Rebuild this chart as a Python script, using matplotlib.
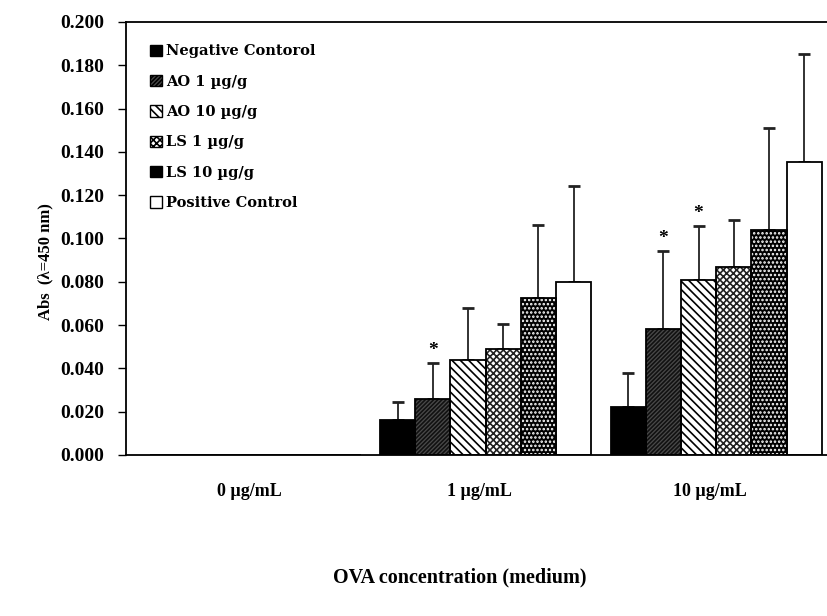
import numpy as np
import matplotlib
matplotlib.use("Agg")
import matplotlib.pyplot as plt
from matplotlib.patches import Patch

# данные
categories = ["0 \u00b5g/mL", "1 \u00b5g/mL", "10 \u00b5g/mL"]
groups = ["Negative Contorol", "AO 1 \u00b5g/g", "AO 10 \u00b5g/g", "LS 1 \u00b5g/g", "LS 10 \u00b5g/g", "Positive Control"]
means = [
    [0.0, 0.016, 0.022],   # Negative
    [0.0, 0.026, 0.058],   # AO 1
    [0.0, 0.044, 0.081],   # AO 10
    [0.0, 0.049, 0.087],   # LS 1
    [0.0, 0.0725, 0.104],  # LS 10
    [0.0, 0.080, 0.1355],  # Positive
]
err_top = [
    [0.0, 0.0245, 0.0378],
    [0.0, 0.0425, 0.094],
    [0.0, 0.068, 0.1057],
    [0.0, 0.0605, 0.1086],
    [0.0, 0.106, 0.1512],
    [0.0, 0.124, 0.185],
]
stars = [(1, 1), (1, 2), (2, 2)]  # (группа, категория) со звездочкой

# стиль заливки: facecolor, hatch, цвет штриховки
styles = [
    ("black", None, "black"),
    ("#4a4a4a", "////////", "#111111"),
    ("white", "\\\\\\\\", "black"),
    ("white", "xxxxx", "#222222"),
    ("black", "....", "white"),
    ("white", None, "black"),
]

plt.rcParams["font.family"] = ["Liberation Serif", "DejaVu Serif"]
plt.rcParams["font.weight"] = "bold"
plt.rcParams["hatch.linewidth"] = 1.2

fig = plt.figure(figsize=(8.28, 6.16), dpi=100)
ax = fig.add_axes([0.1522, 0.2614, 0.8527, 0.7030])

x = np.arange(len(categories))
w = 0.1527
shift = 0.027  # группа баров чуть правее подписи
for i in range(len(groups)):
    pos = x + shift - 2.5 * w + i * w
    fc, hatch, hc = styles[i]
    ax.bar(pos, means[i], w, color=fc, edgecolor=hc, hatch=hatch, linewidth=0, zorder=2)
    ax.bar(pos, means[i], w, fill=False, edgecolor="black", linewidth=1.3, zorder=3)
    m = np.array(means[i])
    e = np.array(err_top[i]) - m
    ok = m > 0
    ax.errorbar(pos[ok], m[ok], yerr=[np.zeros(ok.sum()), e[ok]], fmt="none",
                ecolor="#222222", elinewidth=1.3, capsize=4, capthick=2, zorder=1)

for g, c in stars:
    xp = x[c] + shift - 2.5 * w + g * w
    ax.text(xp, err_top[g][c] + 0.002, "*", ha="center", va="bottom", fontsize=14, fontweight="bold")

ax.set_xlim(-0.5336, 2.53)
ax.set_ylim(0, 0.2)
ax.set_yticks(np.arange(0, 0.201, 0.02))
ax.set_yticklabels([f"{v:.3f}" for v in np.arange(0, 0.201, 0.02)])
ax.set_xticks(x)
ax.set_xticklabels(categories)
ax.tick_params(axis="x", length=0, pad=20, labelsize=13)
ax.tick_params(axis="y", length=6, width=1, labelsize=14, pad=10)
for s in ax.spines.values():
    s.set_linewidth(1.3)

ax.set_ylabel("Abs  (\u03bb=450 nm)", fontsize=12, fontweight="bold", labelpad=4)
ax.yaxis.set_label_coords(-0.103, 0.446)
ax.set_xlabel("OVA concentration (medium)", fontsize=14.5, fontweight="bold", labelpad=49)
ax.xaxis.label.set_x(0.473)

handles = [Patch(facecolor=fc, edgecolor="black", hatch=h, linewidth=1) for fc, h, hc in styles]
ax.legend(handles, groups, loc="upper left", bbox_to_anchor=(0.034, 0.948), frameon=False,
          prop={"family": "DejaVu Serif", "weight": "bold", "size": 10.5},
          handlelength=0.8, handleheight=0.8, handletextpad=0.3,
          labelspacing=1.12, borderpad=0, borderaxespad=0)

fig.savefig("out.png", dpi=100)
